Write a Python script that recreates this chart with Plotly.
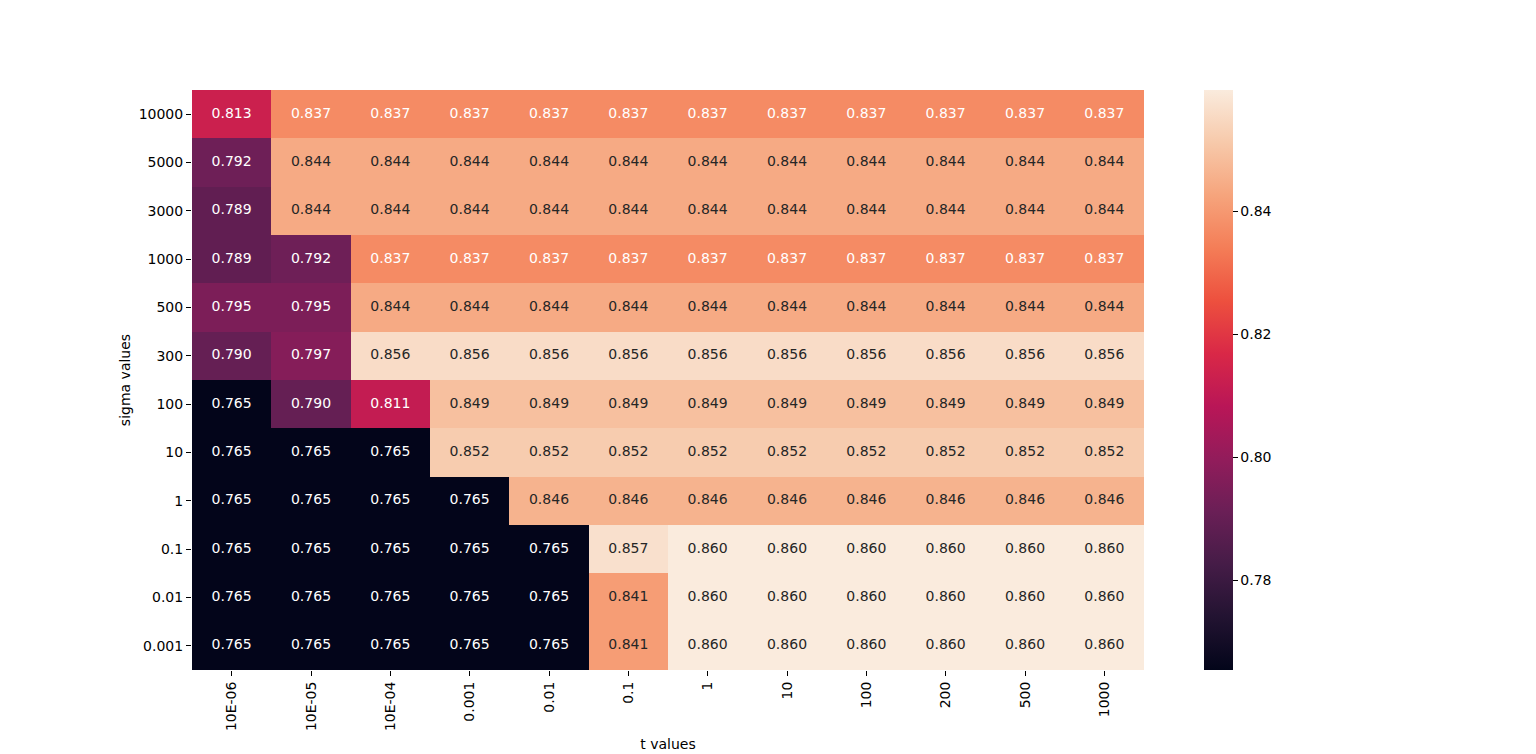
import plotly.graph_objects as go

t_labels = ["10E-06", "10E-05", "10E-04", "0.001", "0.01", "0.1", "1", "10", "100", "200", "500", "1000"]
sigma_labels = ["10000", "5000", "3000", "1000", "500", "300", "100", "10", "1", "0.1", "0.01", "0.001"]

row_10000 = [0.813, 0.837, 0.837, 0.837, 0.837, 0.837, 0.837, 0.837, 0.837, 0.837, 0.837, 0.837]
row_5000 = [0.792, 0.844, 0.844, 0.844, 0.844, 0.844, 0.844, 0.844, 0.844, 0.844, 0.844, 0.844]
row_3000 = [0.789, 0.844, 0.844, 0.844, 0.844, 0.844, 0.844, 0.844, 0.844, 0.844, 0.844, 0.844]
row_1000 = [0.789, 0.792, 0.837, 0.837, 0.837, 0.837, 0.837, 0.837, 0.837, 0.837, 0.837, 0.837]
row_500 = [0.795, 0.795, 0.844, 0.844, 0.844, 0.844, 0.844, 0.844, 0.844, 0.844, 0.844, 0.844]
row_300 = [0.790, 0.797, 0.856, 0.856, 0.856, 0.856, 0.856, 0.856, 0.856, 0.856, 0.856, 0.856]
row_100 = [0.765, 0.790, 0.811, 0.849, 0.849, 0.849, 0.849, 0.849, 0.849, 0.849, 0.849, 0.849]
row_10 = [0.765, 0.765, 0.765, 0.852, 0.852, 0.852, 0.852, 0.852, 0.852, 0.852, 0.852, 0.852]
row_1 = [0.765, 0.765, 0.765, 0.765, 0.846, 0.846, 0.846, 0.846, 0.846, 0.846, 0.846, 0.846]
row_0_1 = [0.765, 0.765, 0.765, 0.765, 0.765, 0.857, 0.860, 0.860, 0.860, 0.860, 0.860, 0.860]
row_0_01 = [0.765, 0.765, 0.765, 0.765, 0.765, 0.841, 0.860, 0.860, 0.860, 0.860, 0.860, 0.860]
row_0_001 = [0.765, 0.765, 0.765, 0.765, 0.765, 0.841, 0.860, 0.860, 0.860, 0.860, 0.860, 0.860]

z = [row_10000, row_5000, row_3000, row_1000, row_500, row_300,
     row_100, row_10, row_1, row_0_1, row_0_01, row_0_001]

rocket = [
    [0.0, "#03051a"], [1/11, "#221331"], [2/11, "#451c47"], [3/11, "#6a1f56"],
    [4/11, "#921c5b"], [5/11, "#b91657"], [6/11, "#d92847"], [7/11, "#ed503e"],
    [8/11, "#f47d57"], [9/11, "#f6a47c"], [10/11, "#f7c9aa"], [1.0, "#faebdd"],
]

FONT = "DejaVu Sans"
FS = 14

fig = go.Figure()
fig.add_trace(go.Heatmap(
    z=z, x=t_labels, y=sigma_labels, colorscale=rocket,
    zmin=0.7654, zmax=0.8597, xgap=0, ygap=0,
    colorbar=dict(x=1.063, xanchor="left", xpad=0, ypad=0, y=0.5, yanchor="middle",
                  len=1.0, lenmode="fraction",
                  thickness=29, outlinewidth=0, tickvals=[0.78, 0.80, 0.82, 0.84],
                  ticktext=["0.78", "0.80", "0.82", "0.84"], ticks="outside", ticklen=5,
                  tickcolor="black", tickfont=dict(family=FONT, size=FS, color="black")),
    hoverinfo="skip",
))

xs, ys, txt, cols = [], [], [], []
for i, row in enumerate(z):
    for j, v in enumerate(row):
        xs.append(t_labels[j]); ys.append(sigma_labels[i])
        txt.append(f"{v:.3f}")
        cols.append("white" if v < 0.840 else "#262626")
fig.add_trace(go.Scatter(x=xs, y=ys, mode="text", text=txt,
                         textfont=dict(family=FONT, size=FS, color=cols),
                         hoverinfo="skip", showlegend=False, cliponaxis=False))

fig.update_layout(
    width=1536, height=754,
    margin=dict(l=184, r=400, t=82, b=92),
    paper_bgcolor="white", plot_bgcolor="white",
    font=dict(family=FONT, size=FS, color="black"),
    showlegend=False,
)
fig.update_xaxes(type="category", categoryorder="array", categoryarray=t_labels,
                 range=[-0.5, len(t_labels) - 0.5], autorange=False,
                 tickangle=-90, ticks="outside", ticklen=5, tickcolor="black",
                 showgrid=False, zeroline=False, showline=False,
                 title=dict(text="t values", font=dict(family=FONT, size=FS), standoff=9),
                 tickfont=dict(family=FONT, size=FS))
fig.update_yaxes(type="category", categoryorder="array", categoryarray=sigma_labels,
                 range=[len(sigma_labels) - 0.5, -0.5], autorange=False,
                 ticks="outside", ticklen=5, tickcolor="black",
                 showgrid=False, zeroline=False, showline=False,
                 title=dict(text="sigma values", font=dict(family=FONT, size=FS), standoff=4),
                 tickfont=dict(family=FONT, size=FS))

fig.write_html("out.html")
